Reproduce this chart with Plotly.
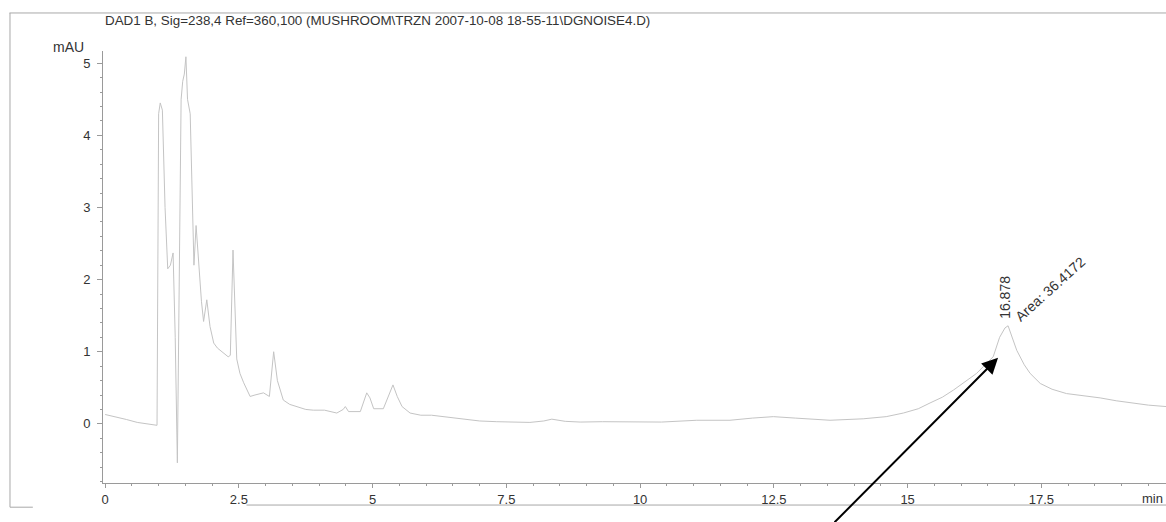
import plotly.graph_objects as go

# DAD1 B chromatogram, retention time (min) vs absorbance (mAU)
time_min = [
    0.0, 0.2, 0.4, 0.6, 0.8, 0.97,
    1.0, 1.03, 1.07, 1.12, 1.17, 1.22, 1.27, 1.31, 1.35,
    1.39, 1.42, 1.45, 1.48, 1.51, 1.54, 1.59, 1.63, 1.66, 1.70, 1.74,
    1.80, 1.84, 1.90, 1.96, 2.03, 2.10, 2.18, 2.30, 2.34, 2.39, 2.46,
    2.52, 2.59, 2.71, 2.80, 2.96, 3.07, 3.15, 3.22, 3.33, 3.45, 3.58,
    3.75, 3.89, 4.10, 4.33, 4.45, 4.49, 4.55, 4.77, 4.89, 4.95, 5.02,
    5.20, 5.30, 5.38, 5.46, 5.55, 5.70, 5.90, 6.10, 6.40, 6.70, 7.00,
    7.32, 7.60, 7.94, 8.20, 8.35, 8.60, 8.88, 9.30, 9.81, 10.40, 11.06,
    11.68, 12.10, 12.49, 12.90, 13.24, 13.55, 14.17, 14.60, 14.92, 15.20,
    15.42, 15.65, 15.86, 16.10, 16.29, 16.45, 16.60, 16.72, 16.82, 16.878,
    17.04, 17.18, 17.29, 17.48, 17.70, 17.97, 18.30, 18.60, 18.90, 19.20,
    19.50, 19.83,
]
signal_mau = [
    0.13, 0.10, 0.06, 0.02, 0.0, -0.02,
    4.30, 4.45, 4.35, 3.00, 2.15, 2.20, 2.37, 1.20, -0.54,
    2.50, 4.50, 4.75, 4.85, 5.09, 4.50, 4.30, 3.20, 2.20, 2.75, 2.30,
    1.70, 1.42, 1.72, 1.35, 1.12, 1.05, 1.00, 0.93, 0.95, 2.41, 0.90,
    0.70, 0.57, 0.38, 0.40, 0.43, 0.38, 1.00, 0.60, 0.33, 0.27, 0.24,
    0.20, 0.19, 0.19, 0.15, 0.20, 0.24, 0.17, 0.17, 0.43, 0.36, 0.21,
    0.21, 0.40, 0.54, 0.38, 0.24, 0.15, 0.12, 0.12, 0.09, 0.06, 0.04,
    0.03, 0.03, 0.02, 0.04, 0.065, 0.035, 0.025, 0.03, 0.03, 0.025, 0.05,
    0.05, 0.08, 0.10, 0.08, 0.06, 0.05, 0.07, 0.10, 0.15, 0.21,
    0.29, 0.37, 0.47, 0.60, 0.70, 0.82, 0.93, 1.20, 1.33, 1.36,
    1.02, 0.82, 0.70, 0.56, 0.48, 0.42, 0.39, 0.36, 0.32, 0.29,
    0.26, 0.24,
]

peak_rt = 16.878
peak_height = 1.36
peak_area = "36.4172"

title_text = "DAD1 B, Sig=238,4 Ref=360,100 (MUSHROOM\\TRZN 2007-10-08 18-55-11\\DGNOISE4.D)"

x_ticks = [0, 2.5, 5, 7.5, 10, 12.5, 15, 17.5]
x_ticklabels = ["0", "2.5", "5", "7.5", "10", "12.5", "15", "17.5"]
y_ticks = [0, 1, 2, 3, 4, 5]

axis_grey = "#9a9a9a"
text_grey = "#333333"
font_family = "Liberation Sans, Arial, sans-serif"

fig = go.Figure()
fig.add_trace(go.Scatter(
    x=time_min, y=signal_mau, mode="lines",
    line=dict(color="#c4c4c4", width=1),
    hoverinfo="skip", showlegend=False,
))

fig.update_layout(
    width=1166, height=522,
    margin=dict(l=103, r=0, t=51, b=39),
    paper_bgcolor="white", plot_bgcolor="white",
    font=dict(family=font_family, size=13, color=text_grey),
    showlegend=False,
)

fig.update_xaxes(
    range=[-0.04, 19.83],
    tickvals=x_ticks, ticktext=x_ticklabels,
    ticks="outside", ticklen=4, tickcolor=axis_grey, tickwidth=1,
    minor=dict(dtick=0.5, tick0=0, ticks="outside", ticklen=2, tickcolor=axis_grey),
    showline=True, linecolor=axis_grey, linewidth=1,
    showgrid=False, zeroline=False,
    tickfont=dict(size=13, color=text_grey),
)
fig.update_yaxes(
    range=[-0.82, 5.17],
    tickvals=y_ticks,
    ticks="outside", ticklen=5, tickcolor=axis_grey, tickwidth=1,
    minor=dict(dtick=0.2, tick0=0, ticks="outside", ticklen=2, tickcolor=axis_grey),
    showline=True, linecolor=axis_grey, linewidth=1,
    showgrid=False, zeroline=False,
    ticklabelstandoff=4,
    tickfont=dict(size=13, color=text_grey),
)

# Header, units and page frame
fig.add_annotation(
    text=title_text, xref="paper", yref="paper", x=0, y=1,
    xanchor="left", yanchor="bottom", xshift=0, yshift=21,
    showarrow=False, font=dict(size=13.4, color=text_grey),
)
fig.add_annotation(
    text="mAU", xref="paper", yref="y", x=0, y=5.17,
    xanchor="right", yanchor="middle", xshift=-17, yshift=4,
    showarrow=False, font=dict(size=14, color=text_grey),
)
fig.add_annotation(
    text="min", xref="paper", yref="paper", x=1, y=0,
    xanchor="right", yanchor="top", xshift=-1, yshift=-6,
    showarrow=False, font=dict(size=13, color=text_grey),
)

frame = dict(color="#a8a8a8", width=1)
fig.add_shape(type="line", xref="paper", yref="paper",
              x0=-0.088, x1=1.0, y0=1.088, y1=1.088, line=frame)
fig.add_shape(type="line", xref="paper", yref="paper",
              x0=-0.0875, x1=-0.0875, y0=1.088, y1=-0.056, line=frame)
fig.add_shape(type="line", xref="paper", yref="paper",
              x0=-0.0875, x1=-0.066, y0=-0.056, y1=-0.056, line=frame)
fig.add_shape(type="line", xref="paper", yref="paper",
              x0=0.135, x1=1.0, y0=-0.051, y1=-0.051, line=frame)

# Peak labels: retention time and area
fig.add_annotation(
    text=f"{peak_rt:.3f}", x=peak_rt, y=peak_height,
    xanchor="center", yanchor="middle", xshift=-3, yshift=28,
    textangle=-90, showarrow=False, font=dict(size=14, color=text_grey),
)
fig.add_annotation(
    text=f"Area: {peak_area}", x=peak_rt, y=peak_height,
    xanchor="center", yanchor="middle", xshift=42, yshift=37,
    textangle=-42, showarrow=False, font=dict(size=14, color=text_grey),
)

# Pointer arrow toward the peak
fig.add_annotation(
    text="", x=peak_rt, y=peak_height, xshift=-10, yshift=-32,
    showarrow=True, ax=-165, ay=166, axref="pixel", ayref="pixel",
    arrowhead=2, arrowsize=1.6, arrowwidth=2, arrowcolor="black",
)

fig.write_html("out.html")
